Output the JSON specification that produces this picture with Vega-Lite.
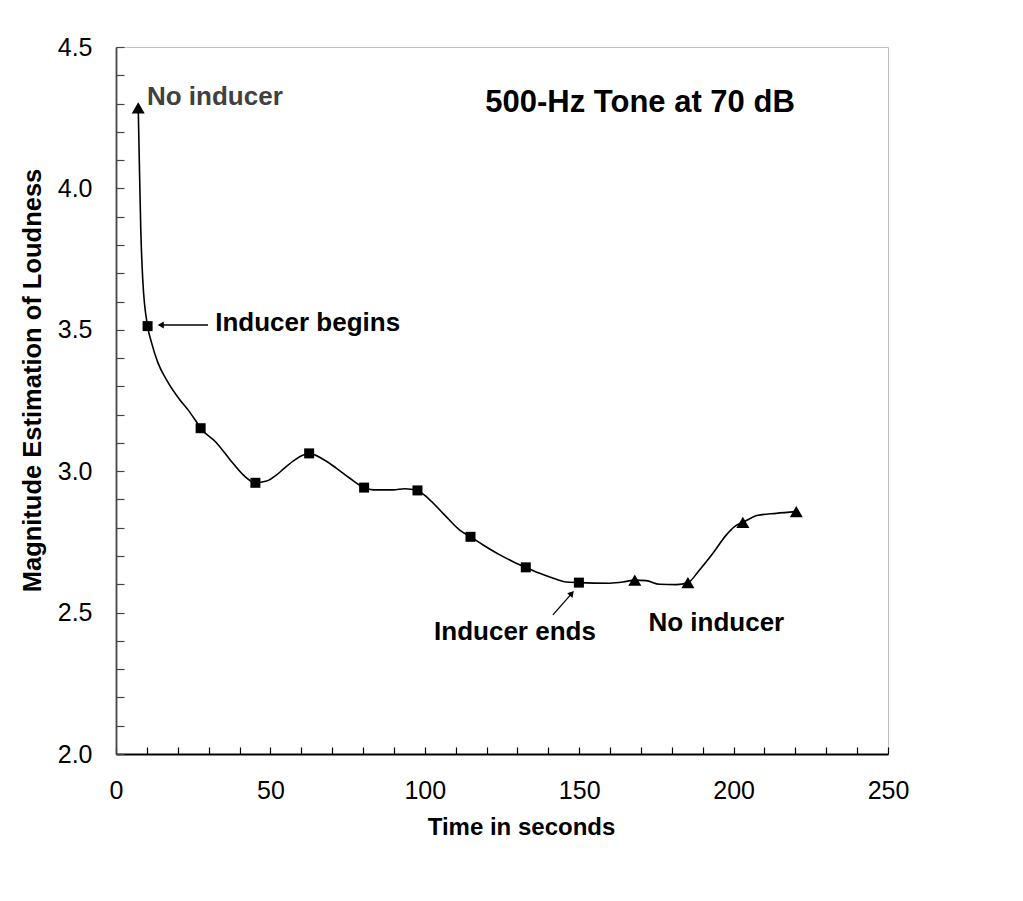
{
  "$schema": "https://vega.github.io/schema/vega-lite/v6.json",
  "autosize": "none",
  "width": 772,
  "height": 707,
  "padding": {"left": 116, "top": 47, "right": 135, "bottom": 147},
  "background": "white",
  "config": {"view": {"stroke": "#c0c0c0", "strokeWidth": 1}, "font": "Liberation Sans"},
  "datasets": {
    "curve": [
      {"t": 7.2, "m": 4.285, "marker": "triangle"},
      {"t": 7.54, "m": 4.1, "marker": null},
      {"t": 8.03, "m": 3.853, "marker": null},
      {"t": 8.67, "m": 3.676, "marker": null},
      {"t": 10.23, "m": 3.513, "marker": "square"},
      {"t": 11.55, "m": 3.453, "marker": null},
      {"t": 13.59, "m": 3.383, "marker": null},
      {"t": 16.41, "m": 3.322, "marker": null},
      {"t": 20.71, "m": 3.252, "marker": null},
      {"t": 23.4, "m": 3.216, "marker": null},
      {"t": 25.65, "m": 3.181, "marker": null},
      {"t": 27.41, "m": 3.152, "marker": "square"},
      {"t": 32.58, "m": 3.1, "marker": null},
      {"t": 36.99, "m": 3.04, "marker": null},
      {"t": 41.19, "m": 2.987, "marker": null},
      {"t": 45.14, "m": 2.959, "marker": "square"},
      {"t": 48.76, "m": 2.965, "marker": null},
      {"t": 52.0, "m": 2.987, "marker": null},
      {"t": 54.14, "m": 3.007, "marker": null},
      {"t": 57.92, "m": 3.04, "marker": null},
      {"t": 60.61, "m": 3.057, "marker": null},
      {"t": 62.55, "m": 3.063, "marker": "square"},
      {"t": 67.08, "m": 3.042, "marker": null},
      {"t": 71.42, "m": 3.01, "marker": null},
      {"t": 75.71, "m": 2.975, "marker": null},
      {"t": 80.35, "m": 2.942, "marker": "square"},
      {"t": 83.26, "m": 2.934, "marker": null},
      {"t": 89.73, "m": 2.934, "marker": null},
      {"t": 93.52, "m": 2.938, "marker": null},
      {"t": 97.63, "m": 2.932, "marker": "square"},
      {"t": 101.1, "m": 2.904, "marker": null},
      {"t": 105.9, "m": 2.851, "marker": null},
      {"t": 111.3, "m": 2.792, "marker": null},
      {"t": 114.8, "m": 2.768, "marker": "square"},
      {"t": 118.9, "m": 2.739, "marker": null},
      {"t": 124.3, "m": 2.704, "marker": null},
      {"t": 128.6, "m": 2.68, "marker": null},
      {"t": 132.7, "m": 2.66, "marker": "square"},
      {"t": 137.2, "m": 2.639, "marker": null},
      {"t": 142.6, "m": 2.618, "marker": null},
      {"t": 145.8, "m": 2.608, "marker": null},
      {"t": 149.9, "m": 2.606, "marker": "square"},
      {"t": 159.9, "m": 2.604, "marker": null},
      {"t": 164.2, "m": 2.608, "marker": null},
      {"t": 168.0, "m": 2.615, "marker": "triangle"},
      {"t": 171.7, "m": 2.613, "marker": null},
      {"t": 176.0, "m": 2.6, "marker": null},
      {"t": 181.4, "m": 2.599, "marker": null},
      {"t": 185.2, "m": 2.606, "marker": "triangle"},
      {"t": 188.97, "m": 2.651, "marker": null},
      {"t": 193.3, "m": 2.71, "marker": null},
      {"t": 197.6, "m": 2.774, "marker": null},
      {"t": 200.3, "m": 2.804, "marker": null},
      {"t": 203.0, "m": 2.819, "marker": "triangle"},
      {"t": 207.9, "m": 2.844, "marker": null},
      {"t": 213.8, "m": 2.851, "marker": null},
      {"t": 220.3, "m": 2.857, "marker": "triangle"}
    ],
    "arrows": [
      {"t": 29.8, "m": 3.517, "t2": 14.5, "m2": 3.517},
      {"t": 141.5, "m": 2.492, "t2": 147.6, "m2": 2.568}
    ],
    "heads": [
      {"t": 14.5, "m": 3.517, "angle": -90},
      {"t": 147.6, "m": 2.568, "angle": 41}
    ]
  },
  "encoding": {
    "x": {
      "field": "t",
      "type": "quantitative",
      "scale": {"domain": [0, 250], "nice": false, "zero": false},
      "axis": {
        "title": "Time in seconds",
        "values": [0, 10, 20, 30, 40, 50, 60, 70, 80, 90, 100, 110, 120, 130, 140, 150, 160, 170, 180, 190, 200, 210, 220, 230, 240, 250],
        "labelExpr": "datum.value % 50 === 0 ? datum.label : ''",
        "grid": false,
        "tickSize": -7,
        "tickWidth": 1.2,
        "tickColor": "black",
        "domainColor": "black",
        "domainWidth": 1.8,
        "labelFontSize": 25,
        "labelColor": "black",
        "labelPadding": 31,
        "labelFlush": false,
        "labelOverlap": false,
        "titleFontSize": 24,
        "titleFontWeight": "bold",
        "titleColor": "black",
        "titleX": 405,
        "titleY": 80,
        "titleAlign": "center",
        "titleBaseline": "alphabetic"
      }
    },
    "y": {
      "field": "m",
      "type": "quantitative",
      "scale": {"domain": [2, 4.5], "nice": false, "zero": false},
      "axis": {
        "title": "Magnitude Estimation of Loudness",
        "values": [2, 2.1, 2.2, 2.3, 2.4, 2.5, 2.6, 2.7, 2.8, 2.9, 3, 3.1, 3.2, 3.3, 3.4, 3.5, 3.6, 3.7, 3.8, 3.9, 4, 4.1, 4.2, 4.3, 4.4, 4.5],
        "labelExpr": "round(datum.value * 10) % 5 === 0 ? format(datum.value, '.1f') : ''",
        "grid": false,
        "tickSize": -8,
        "tickWidth": 1.2,
        "tickColor": "#444444",
        "domainColor": "#444444",
        "domainWidth": 1.8,
        "labelFontSize": 25,
        "labelColor": "black",
        "labelPadding": 32,
        "labelFlush": false,
        "labelOverlap": false,
        "titleFontSize": 25.5,
        "titleFontWeight": "bold",
        "titleColor": "black",
        "titleAngle": -90,
        "titleX": -76,
        "titleY": 333,
        "titleAlign": "center",
        "titleBaseline": "alphabetic"
      }
    }
  },
  "layer": [
    {
      "data": {"name": "curve"},
      "mark": {"type": "line", "interpolate": "monotone", "color": "black", "strokeWidth": 1.6}
    },
    {
      "data": {"name": "curve"},
      "transform": [{"filter": "datum.marker === 'square'"}],
      "mark": {"type": "point", "shape": "square", "filled": true, "opacity": 1, "color": "black", "size": 100}
    },
    {
      "data": {"name": "curve"},
      "transform": [{"filter": "datum.marker === 'triangle'"}],
      "mark": {"type": "point", "shape": "triangle-up", "filled": true, "opacity": 1, "color": "black", "size": 170}
    },
    {
      "data": {"name": "arrows"},
      "mark": {"type": "rule", "color": "black", "strokeWidth": 1.3},
      "encoding": {
        "x2": {"field": "t2"},
        "y2": {"field": "m2"}
      }
    },
    {
      "data": {"name": "heads"},
      "mark": {"type": "point", "shape": "triangle-up", "filled": true, "opacity": 1, "color": "black", "size": 50},
      "encoding": {
        "angle": {"field": "angle", "type": "quantitative", "scale": null}
      }
    },
    {
      "data": {"values": [{"t": 169.7, "m": 4.27, "label": "500-Hz Tone at 70 dB"}]},
      "mark": {"type": "text", "align": "center", "baseline": "alphabetic", "fontSize": 31, "fontWeight": "bold", "color": "black"},
      "encoding": {"text": {"field": "label"}}
    },
    {
      "data": {"values": [{"t": 10.03, "m": 4.295, "label": "No inducer"}]},
      "mark": {"type": "text", "align": "left", "baseline": "alphabetic", "fontSize": 26, "fontWeight": "bold", "color": "#404040"},
      "encoding": {"text": {"field": "label"}}
    },
    {
      "data": {"values": [{"t": 32.13, "m": 3.496, "label": "Inducer begins"}]},
      "mark": {"type": "text", "align": "left", "baseline": "alphabetic", "fontSize": 26, "fontWeight": "bold", "color": "black"},
      "encoding": {"text": {"field": "label"}}
    },
    {
      "data": {"values": [{"t": 129.2, "m": 2.403, "label": "Inducer ends"}, {"t": 194.4, "m": 2.436, "label": "No inducer"}]},
      "mark": {"type": "text", "align": "center", "baseline": "alphabetic", "fontSize": 26, "fontWeight": "bold", "color": "black"},
      "encoding": {"text": {"field": "label"}}
    }
  ]
}
